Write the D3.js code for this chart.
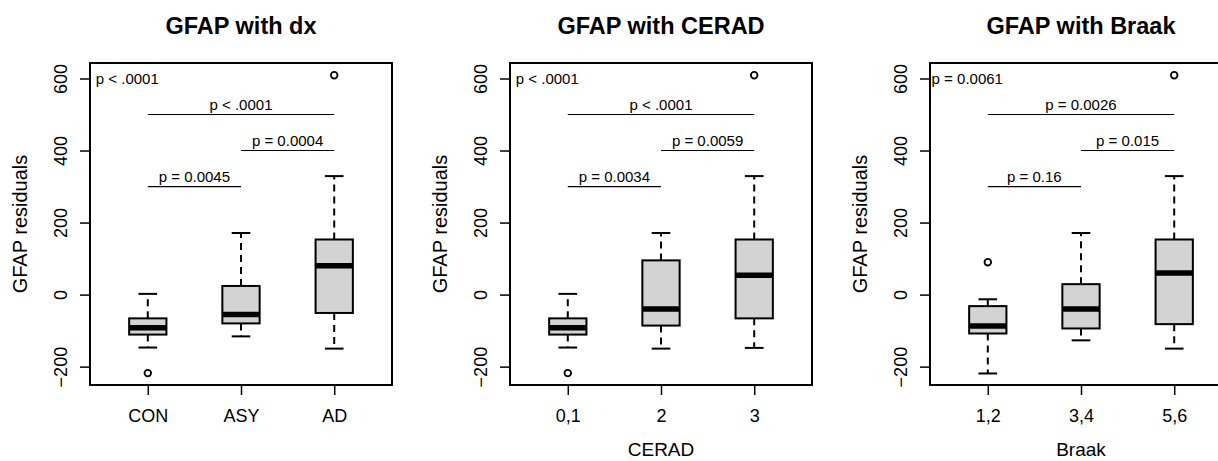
<!DOCTYPE html>
<html>
<head>
<meta charset="utf-8">
<script src="https://cdn.jsdelivr.net/npm/d3@7"></script>
<style>
  html, body { margin: 0; padding: 0; background: #fff; }
  svg { display: block; font-family: "Liberation Sans", Arial, Helvetica, sans-serif; }
</style>
</head>
<body>
<svg id="chart" width="1218" height="461"></svg>
<script>
// ---------- data ----------
const titles = ["GFAP with dx", "GFAP with CERAD", "GFAP with Braak"];
const xTitles = ["", "CERAD", "Braak"];
const categories = [["CON", "ASY", "AD"], ["0,1", "2", "3"], ["1,2", "3,4", "5,6"]];
// five-number summaries per group: [lower whisker, Q1, median, Q3, upper whisker]
const statsDx    = [[-147, -111, -92, -66, 2], [-116, -80, -55, 24, 171], [-150, -51, 80, 153, 329]];
const statsCerad = [[-147, -111, -92, -66, 2], [-150, -86, -40, 95, 171], [-148, -66, 54, 153, 329]];
const statsBraak = [[-219, -108, -87, -32, -13], [-127, -94, -40, 29, 171], [-150, -82, 60, 153, 329]];
const outliersDx    = [[-218], [], [609]];
const outliersCerad = [[-218], [], [609]];
const outliersBraak = [[90], [], [609]];
const overallP = ["p < .0001", "p < .0001", "p = 0.0061"];
// pairwise comparisons: [group a, group b, bracket height, label]
const pairsDx    = [[1, 2, 300, "p = 0.0045"], [2, 3, 400, "p = 0.0004"], [1, 3, 500, "p < .0001"]];
const pairsCerad = [[1, 2, 300, "p = 0.0034"], [2, 3, 400, "p = 0.0059"], [1, 3, 500, "p < .0001"]];
const pairsBraak = [[1, 2, 300, "p = 0.16"],   [2, 3, 400, "p = 0.015"],  [1, 3, 500, "p = 0.0026"]];
const yTicks = [-200, 0, 200, 400, 600];
const yLabel = "GFAP residuals";

const stats = [statsDx, statsCerad, statsBraak];
const outliers = [outliersDx, outliersCerad, outliersBraak];
const pairs = [pairsDx, pairsCerad, pairsBraak];

// ---------- layout ----------
const svg = d3.select("#chart");
const panelLefts = [90, 510, 930];
const plotW = 302, plotTop = 63, plotBottom = 385;
const y = d3.scaleLinear().domain([-251, 643]).range([plotBottom, plotTop]);

panelLefts.forEach((left, p) => {
  const g = svg.append("g");
  const x = d3.scaleLinear().domain([0.38, 3.62]).range([left, left + plotW]);
  const unit = x(1) - x(0);
  const bw = 0.4 * unit;

  // title
  g.append("text").attr("x", x(2)).attr("y", 34)
    .attr("text-anchor", "middle").attr("font-weight", "bold")
    .attr("font-size", 23.5).text(titles[p]);

  // y axis
  const yAxis = d3.axisLeft(y).tickValues(yTicks).tickSize(10).tickPadding(0)
    .tickFormat(d => d < 0 ? "\u2212" + Math.abs(d) : String(d));
  const ya = g.append("g").attr("transform", `translate(${left},0)`).call(yAxis);
  ya.select(".domain").remove();
  ya.append("path").attr("d", `M0,${y(-200)}V${y(600)}`).attr("stroke", "#000").attr("stroke-width", 1.5);
  ya.selectAll(".tick line").attr("stroke-width", 1.5);
  ya.selectAll(".tick text")
    .attr("transform", "translate(-29,0) rotate(-90)")
    .attr("x", 0).attr("y", 0).attr("dy", "0.35em")
    .attr("text-anchor", "middle").attr("font-size", 18).attr("fill", "#000")
    .attr("font-family", "Liberation Sans, Arial, sans-serif");

  // y label
  g.append("text").attr("transform", `translate(${left - 70},${(plotTop + plotBottom) / 2}) rotate(-90)`)
    .attr("text-anchor", "middle").attr("dy", "0.35em").attr("font-size", 20).text(yLabel);

  // x axis
  const xAxis = d3.axisBottom(x).tickValues([1, 2, 3]).tickSize(10).tickPadding(14)
    .tickFormat(d => categories[p][d - 1]);
  const xa = g.append("g").attr("transform", `translate(0,${plotBottom})`).call(xAxis);
  xa.select(".domain").remove();
  xa.append("path").attr("d", `M${x(1)},0H${x(3)}`).attr("stroke", "#000").attr("stroke-width", 1.5);
  xa.selectAll(".tick line").attr("stroke-width", 1.5);
  xa.selectAll(".tick text").attr("font-size", 18).attr("fill", "#000")
    .attr("font-family", "Liberation Sans, Arial, sans-serif");

  if (xTitles[p]) {
    g.append("text").attr("x", x(2)).attr("y", 456).attr("text-anchor", "middle")
      .attr("font-size", 19).text(xTitles[p]);
  }

  // boxes
  stats[p].forEach((s, i) => {
    const cx = x(i + 1);
    const [lo, q1, med, q3, hi] = s;
    // whiskers
    g.append("line").attr("x1", cx).attr("x2", cx).attr("y1", y(q3)).attr("y2", y(hi))
      .attr("stroke", "#000").attr("stroke-width", 2).attr("stroke-dasharray", "7,5");
    g.append("line").attr("x1", cx).attr("x2", cx).attr("y1", y(q1)).attr("y2", y(lo))
      .attr("stroke", "#000").attr("stroke-width", 2).attr("stroke-dasharray", "7,5");
    // staples
    [lo, hi].forEach(v => {
      g.append("line").attr("x1", cx - bw / 4).attr("x2", cx + bw / 4).attr("y1", y(v)).attr("y2", y(v))
        .attr("stroke", "#000").attr("stroke-width", 2);
    });
    // box
    g.append("rect").attr("x", cx - bw / 2).attr("y", y(q3)).attr("width", bw).attr("height", y(q1) - y(q3))
      .attr("fill", "#d3d3d3").attr("stroke", "#000").attr("stroke-width", 2);
    // median
    g.append("line").attr("x1", cx - bw / 2).attr("x2", cx + bw / 2).attr("y1", y(med)).attr("y2", y(med))
      .attr("stroke", "#000").attr("stroke-width", 5.5);
    // outliers
    outliers[p][i].forEach(v => {
      g.append("circle").attr("cx", cx).attr("cy", y(v)).attr("r", 3.3)
        .attr("fill", "none").attr("stroke", "#000").attr("stroke-width", 1.8);
    });
  });

  // comparison brackets
  pairs[p].forEach(([a, b, h, lab]) => {
    g.append("line").attr("x1", x(a)).attr("x2", x(b)).attr("y1", y(h)).attr("y2", y(h))
      .attr("stroke", "#000").attr("stroke-width", 1.2);
    g.append("text").attr("x", (x(a) + x(b)) / 2).attr("y", y(h) - 5)
      .attr("text-anchor", "middle").attr("font-size", 15).text(lab);
  });

  // overall p
  g.append("text").attr("x", x(0.78)).attr("y", y(600)).attr("dy", "0.4em")
    .attr("text-anchor", "middle").attr("font-size", 15).text(overallP[p]);

  // frame
  g.append("rect").attr("x", left).attr("y", plotTop).attr("width", plotW).attr("height", plotBottom - plotTop)
    .attr("fill", "none").attr("stroke", "#000").attr("stroke-width", 2);
});
</script>
</body>
</html>
